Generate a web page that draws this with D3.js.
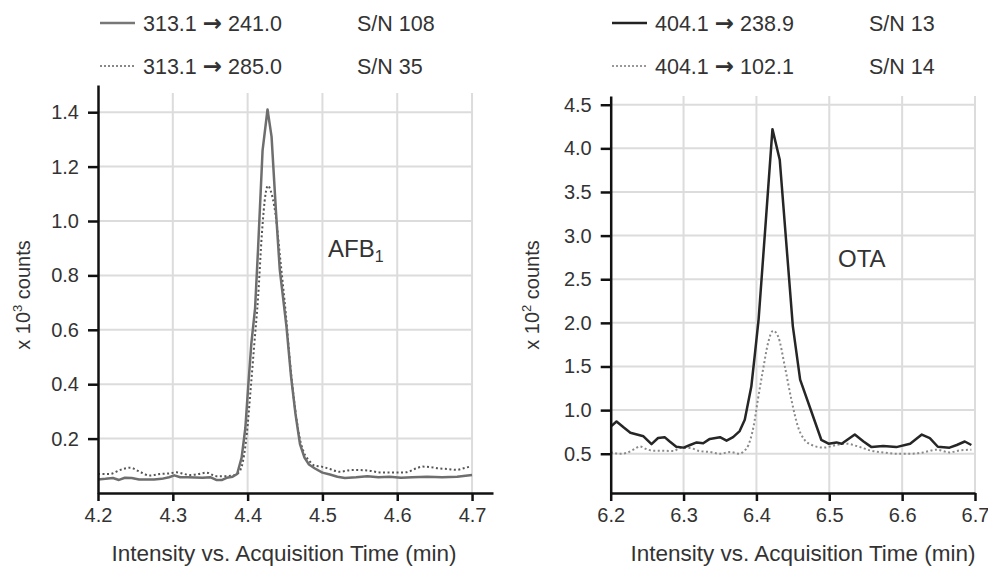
<!DOCTYPE html>
<html>
<head>
<meta charset="utf-8">
<script src="https://cdn.jsdelivr.net/npm/d3@7"></script>
<style>
  body { margin: 0; background: #fff; }
  svg text { font-family: "Liberation Sans", Arial, sans-serif; fill: #333; }
</style>
</head>
<body>
<svg id="chart" width="988" height="567"></svg>
<script>
// AFB1 : 313.1 -> 241.0 (trait plein) et 313.1 -> 285.0 (pointillé)
var afbT241 = [4.200, 4.210, 4.220, 4.228, 4.236, 4.245, 4.255, 4.265, 4.275, 4.285, 4.295, 4.302, 4.310, 4.320, 4.330, 4.340, 4.350, 4.358, 4.366, 4.372, 4.380, 4.386, 4.392, 4.397, 4.401, 4.405, 4.410, 4.414, 4.420, 4.4266, 4.432, 4.438, 4.443, 4.452, 4.458, 4.464, 4.470, 4.476, 4.482, 4.490, 4.500, 4.510, 4.520, 4.530, 4.545, 4.560, 4.575, 4.590, 4.605, 4.620, 4.640, 4.660, 4.680, 4.700];
var afbI241 = [0.050, 0.052, 0.055, 0.048, 0.056, 0.055, 0.050, 0.050, 0.050, 0.052, 0.058, 0.065, 0.058, 0.058, 0.057, 0.056, 0.058, 0.048, 0.048, 0.056, 0.060, 0.070, 0.130, 0.240, 0.400, 0.550, 0.680, 0.900, 1.260, 1.410, 1.310, 1.030, 0.820, 0.610, 0.430, 0.290, 0.180, 0.130, 0.105, 0.090, 0.075, 0.068, 0.060, 0.055, 0.058, 0.062, 0.058, 0.060, 0.056, 0.058, 0.060, 0.058, 0.060, 0.066];
var afbT285 = [4.200, 4.216, 4.230, 4.243, 4.256, 4.269, 4.283, 4.295, 4.305, 4.315, 4.323, 4.335, 4.345, 4.358, 4.370, 4.380, 4.388, 4.394, 4.399, 4.404, 4.409, 4.414, 4.419, 4.424, 4.427, 4.431, 4.437, 4.444, 4.451, 4.457, 4.463, 4.469, 4.475, 4.482, 4.490, 4.499, 4.510, 4.523, 4.540, 4.560, 4.580, 4.600, 4.612, 4.625, 4.634, 4.645, 4.657, 4.668, 4.679, 4.690, 4.697];
var afbI285 = [0.070, 0.070, 0.085, 0.093, 0.078, 0.064, 0.070, 0.072, 0.076, 0.070, 0.066, 0.070, 0.075, 0.062, 0.062, 0.064, 0.075, 0.120, 0.220, 0.380, 0.550, 0.720, 0.950, 1.100, 1.130, 1.110, 1.030, 0.850, 0.660, 0.470, 0.320, 0.210, 0.150, 0.120, 0.100, 0.097, 0.088, 0.078, 0.085, 0.083, 0.075, 0.075, 0.076, 0.090, 0.097, 0.095, 0.090, 0.088, 0.085, 0.092, 0.097];

// OTA : 404.1 -> 238.9 (trait plein) et 404.1 -> 102.1 (pointillé)
var otaT239 = [6.200, 6.208, 6.218, 6.227, 6.236, 6.245, 6.256, 6.265, 6.274, 6.281, 6.290, 6.300, 6.309, 6.318, 6.327, 6.336, 6.350, 6.359, 6.368, 6.377, 6.384, 6.393, 6.398, 6.403, 6.413, 6.422, 6.432, 6.450, 6.460, 6.476, 6.489, 6.499, 6.510, 6.517, 6.535, 6.547, 6.558, 6.574, 6.592, 6.611, 6.627, 6.638, 6.649, 6.665, 6.675, 6.686, 6.695];
var otaI239 = [0.81, 0.87, 0.80, 0.74, 0.72, 0.70, 0.61, 0.68, 0.69, 0.64, 0.58, 0.57, 0.60, 0.63, 0.62, 0.67, 0.69, 0.65, 0.69, 0.76, 0.89, 1.27, 1.65, 2.04, 3.18, 4.22, 3.87, 1.96, 1.35, 0.97, 0.66, 0.615, 0.63, 0.615, 0.72, 0.64, 0.576, 0.59, 0.576, 0.615, 0.72, 0.68, 0.58, 0.57, 0.60, 0.64, 0.60];
var otaT102 = [6.200, 6.213, 6.222, 6.231, 6.240, 6.249, 6.258, 6.272, 6.286, 6.295, 6.309, 6.322, 6.336, 6.350, 6.364, 6.377, 6.383, 6.389, 6.396, 6.402, 6.409, 6.416, 6.423, 6.430, 6.439, 6.448, 6.457, 6.466, 6.476, 6.492, 6.510, 6.524, 6.537, 6.556, 6.574, 6.592, 6.611, 6.629, 6.647, 6.665, 6.679, 6.695];
var otaI102 = [0.515, 0.50, 0.51, 0.546, 0.584, 0.554, 0.534, 0.534, 0.53, 0.565, 0.565, 0.53, 0.52, 0.50, 0.52, 0.50, 0.53, 0.60, 0.81, 1.12, 1.46, 1.77, 1.91, 1.84, 1.50, 1.12, 0.81, 0.66, 0.60, 0.57, 0.60, 0.615, 0.59, 0.538, 0.515, 0.50, 0.50, 0.515, 0.546, 0.515, 0.538, 0.546];

// Graduations
var afbXTicks = [4.2, 4.3, 4.4, 4.5, 4.6, 4.7];
var afbYTicks = [0.2, 0.4, 0.6, 0.8, 1.0, 1.2, 1.4];
var otaXTicks = [6.2, 6.3, 6.4, 6.5, 6.6, 6.7];
var otaYTicks = [0.5, 1.0, 1.5, 2.0, 2.5, 3.0, 3.5, 4.0, 4.5];

var svg = d3.select("#chart");

function drawPanel(p) {
  var g = svg.append("g");

  var x = d3.scaleLinear().domain(p.xDomain).range(p.xRange);
  var y = d3.scaleLinear().domain(p.yDomain).range([493, p.yTop]);

  // grille
  g.selectAll("line.vgrid")
    .data(p.xTicks.slice(1))
    .enter()
    .append("line")
    .attr("x1", d => x(d))
    .attr("x2", d => x(d))
    .attr("y1", p.gridTop)
    .attr("y2", 493)
    .style("stroke", "#dcdcdc")
    .style("stroke-width", 2);

  g.selectAll("line.hgrid")
    .data(p.yTicks)
    .enter()
    .append("line")
    .attr("x1", p.xRange[0])
    .attr("x2", x(p.xTicks[p.xTicks.length - 1]))
    .attr("y1", d => y(d))
    .attr("y2", d => y(d))
    .style("stroke", "#dcdcdc")
    .style("stroke-width", 2);

  // courbes
  p.series.forEach(function(s) {
    var pts = s.t.map((t, i) => [t, s.v[i]]);
    g.append("path")
      .datum(pts)
      .attr("fill", "none")
      .attr("stroke", s.color)
      .attr("stroke-width", s.width)
      .attr("stroke-dasharray", s.dash)
      .attr("stroke-linejoin", "round")
      .attr("d", d3.line()
        .x(d => x(d[0]))
        .y(d => y(d[1]))
        .curve(s.dash ? d3.curveMonotoneX : d3.curveLinear));
  });

  // axes
  var xAxis = g.append("g")
    .attr("transform", "translate(0,493)")
    .call(d3.axisBottom(x).tickValues(p.xTicks).tickFormat(d3.format(".1f")).tickSizeInner(8).tickSizeOuter(0).tickPadding(7));
  var yAxis = g.append("g")
    .attr("transform", "translate(" + p.xRange[0] + ",0)")
    .call(d3.axisLeft(y).tickValues(p.yTicks).tickFormat(d3.format(".1f")).tickSizeInner(10).tickSizeOuter(0).tickPadding(9));

  [xAxis, yAxis].forEach(function(a) {
    a.select(".domain").attr("stroke", "#111").attr("stroke-width", 2.5);
    a.selectAll(".tick line").attr("stroke", "#111").attr("stroke-width", 2.5);
    a.selectAll(".tick text").attr("font-size", 20).attr("font-family", "Liberation Sans, Arial, sans-serif").attr("fill", "#333");
  });

  // titres
  g.append("text")
    .attr("x", p.titleX)
    .attr("y", 561)
    .attr("text-anchor", "middle")
    .attr("font-size", 22.5)
    .text("Intensity vs. Acquisition Time (min)");

  var yt = g.append("text")
    .attr("transform", "translate(" + p.yTitleX + ",295) rotate(-90)")
    .attr("text-anchor", "middle")
    .attr("font-size", 20);
  yt.append("tspan").text("x 10");
  yt.append("tspan").attr("font-size", 13).attr("dy", -8).text(p.exp);
  yt.append("tspan").attr("dy", 8).text(" counts");

  // annotation
  var an = g.append("text")
    .attr("x", p.label.x)
    .attr("y", p.label.y)
    .attr("font-size", 24)
    .text(p.label.text);
  if (p.label.sub) {
    an.append("tspan").attr("font-size", 16).attr("dy", 5).text(p.label.sub);
  }

  // légende
  p.legend.forEach(function(l, i) {
    var ly = 23 + i * 43;
    g.append("line")
      .attr("x1", p.legendX)
      .attr("x2", p.legendX + 35)
      .attr("y1", ly)
      .attr("y2", ly)
      .attr("stroke", l.color)
      .attr("stroke-width", l.dash ? 2 : 2.5)
      .attr("stroke-dasharray", l.dash);
    var lt = g.append("text")
      .attr("x", p.legendX + 43)
      .attr("y", ly + 7.5)
      .attr("font-size", 21.5);
    lt.append("tspan").text(l.from + " ");
    lt.append("tspan")
      .attr("font-family", "DejaVu Sans")
      .attr("font-weight", "bold")
      .attr("font-size", 23)
      .text("\u2192");
    lt.append("tspan").text(" " + l.to);
    g.append("text")
      .attr("x", p.legendX + 257)
      .attr("y", ly + 7.5)
      .attr("font-size", 21.5)
      .text(l.sn);
  });
}

drawPanel({
  xDomain: [4.2, 4.728], xRange: [98, 493],
  yDomain: [0, 1.5], yTop: 85, gridTop: 93,
  xTicks: afbXTicks, yTicks: afbYTicks,
  titleX: 284, yTitleX: 30, exp: "3",
  label: { text: "AFB", sub: "1", x: 328, y: 257 },
  legendX: 100,
  legend: [
    { from: "313.1", to: "241.0", sn: "S/N 108", color: "#777", dash: null },
    { from: "313.1", to: "285.0", sn: "S/N 35", color: "#888", dash: "2,2" }
  ],
  series: [
    { t: afbT285, v: afbI285, color: "#555", width: 2, dash: "2,2.5" },
    { t: afbT241, v: afbI241, color: "#6e6e6e", width: 2.5, dash: null }
  ]
});

drawPanel({
  xDomain: [6.2, 6.7], xRange: [610.7, 975],
  yDomain: [0.05, 4.6], yTop: 96, gridTop: 96,
  xTicks: otaXTicks, yTicks: otaYTicks,
  titleX: 803, yTitleX: 539, exp: "2",
  label: { text: "OTA", x: 838, y: 267 },
  legendX: 612,
  legend: [
    { from: "404.1", to: "238.9", sn: "S/N 13", color: "#222", dash: null },
    { from: "404.1", to: "102.1", sn: "S/N 14", color: "#999", dash: "2,2" }
  ],
  series: [
    { t: otaT102, v: otaI102, color: "#8a8a8a", width: 2, dash: "2,2.5" },
    { t: otaT239, v: otaI239, color: "#262626", width: 2.5, dash: null }
  ]
});
</script>
</body>
</html>
